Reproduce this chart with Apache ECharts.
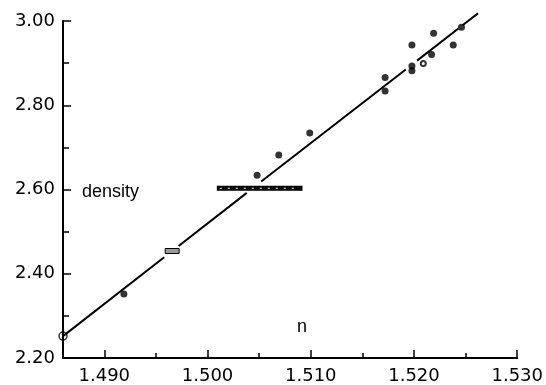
<!DOCTYPE html>
<html>
<head>
<meta charset="utf-8">
<script src="https://cdn.jsdelivr.net/npm/echarts@6/dist/echarts.min.js"></script>
<style>
html,body{margin:0;padding:0;background:#fff;}
#chart{width:546px;height:385px;}
</style>
</head>
<body>
<div id="chart"></div>
<script>
// ---- data ----
const xMin = 1.486, xMax = 1.530;
const yMin = 2.20, yMax = 3.00;
const xTickLabels = [1.490, 1.500, 1.510, 1.520, 1.530];
const xMinorTicks = [1.495, 1.505, 1.515, 1.525];
const yTickStep = 0.2;

const pointN       = [1.4919, 1.5048, 1.5069, 1.5099, 1.5172, 1.5172, 1.5198, 1.5198, 1.5198, 1.5217, 1.5219, 1.5238, 1.5246];
const pointDensity = [2.352,  2.634,  2.682,  2.734,  2.866,  2.834,  2.943,  2.893,  2.882,  2.9205, 2.971,  2.943,  2.985];
const ringN = [1.5209];
const ringDensity = [2.899];
const anchorN = [1.486];
const anchorDensity = [2.252];

// horizontal range bars: [nStart, nEnd, density]
const bigBarN = [1.5009, 1.5092];
const bigBarDensity = 2.603;
const smallBoxN = [1.4959, 1.49725];
const smallBoxDensity = 2.454;

// fitted line, drawn as broken segments
const lineSegN = [
  [1.486, 1.4958],
  [1.4972, 1.5038],
  [1.5052, 1.5192],
  [1.5203, 1.5243],
  [1.5247, 1.5262]
];
const lineSegDensity = [
  [2.252, 2.439],
  [2.466, 2.592],
  [2.619, 2.885],
  [2.906, 2.982],
  [2.990, 3.018]
];

// ---- chart ----
const chart = echarts.init(document.getElementById('chart'), null, {renderer: 'canvas'});
const labelFont = {color: '#000', fontFamily: 'DejaVu Sans', fontSize: 18};

const series = [];
lineSegN.forEach((seg, i) => {
  series.push({
    type: 'line', xAxisIndex: 0, yAxisIndex: 0,
    data: [[seg[0], lineSegDensity[i][0]], [seg[1], lineSegDensity[i][1]]],
    symbol: 'none', lineStyle: {color: '#000', width: 2}, clip: false, silent: true
  });
});
series.push({
  type: 'scatter', xAxisIndex: 0, yAxisIndex: 0,
  data: pointN.map((x, i) => [x, pointDensity[i]]),
  symbol: 'circle', symbolSize: 7, itemStyle: {color: '#000'}, clip: false
});
series.push({
  type: 'scatter', xAxisIndex: 0, yAxisIndex: 0,
  data: ringN.map((x, i) => [x, ringDensity[i]]),
  symbol: 'circle', symbolSize: 5, itemStyle: {color: '#fff', borderColor: '#000', borderWidth: 2}, clip: false
});
series.push({
  type: 'scatter', xAxisIndex: 0, yAxisIndex: 0,
  data: anchorN.map((x, i) => [x, anchorDensity[i]]),
  symbol: 'circle', symbolSize: 8, itemStyle: {color: 'rgba(255,255,255,0)', borderColor: '#000', borderWidth: 1.5}, clip: false, z: 5
});
function rangeRect(nArr, d, h, style, inner) {
  return {
    type: 'custom', xAxisIndex: 0, yAxisIndex: 0,
    data: [[nArr[0], nArr[1], d]],
    renderItem: function (params, api) {
      const p1 = api.coord([api.value(0), api.value(2)]);
      const p2 = api.coord([api.value(1), api.value(2)]);
      const children = [{
        type: 'rect',
        shape: {x: p1[0], y: p1[1] - h / 2, width: p2[0] - p1[0], height: h},
        style: style
      }];
      if (inner) {
        children.push({
          type: 'line',
          shape: {x1: p1[0] + 3, y1: p1[1], x2: p2[0] - 3, y2: p1[1]},
          style: {stroke: '#fff', lineWidth: 1, lineDash: [2, 6]}
        });
      }
      return {type: 'group', children: children};
    },
    clip: false, silent: true
  };
}
series.push(rangeRect(bigBarN, bigBarDensity, 5, {fill: '#000'}, true));
series.push(rangeRect(smallBoxN, smallBoxDensity, 5, {fill: '#999', stroke: '#000', lineWidth: 1}, false));

chart.setOption({
  backgroundColor: '#fff',
  animation: false,
  grid: {left: 63, right: 19, top: 21, bottom: 27, containLabel: false},
  xAxis: [{
    type: 'value', min: xMin, max: xMax,
    axisLine: {show: true, onZero: false, lineStyle: {color: '#000', width: 2}},
    axisTick: {show: true, inside: true, length: 8, lineStyle: {color: '#000', width: 1.5}, customValues: xTickLabels},
    axisLabel: Object.assign({show: true, margin: 9, customValues: xTickLabels,
      formatter: v => v.toFixed(3)}, labelFont),
    splitLine: {show: false}
  }, {
    type: 'value', min: xMin, max: xMax, position: 'bottom',
    axisLine: {show: false},
    axisTick: {show: true, inside: true, length: 5, lineStyle: {color: '#000', width: 1.5}, customValues: xMinorTicks},
    axisLabel: {show: false},
    splitLine: {show: false}
  }],
  yAxis: [{
    type: 'value', min: yMin, max: yMax, interval: yTickStep,
    axisLine: {show: true, onZero: false, lineStyle: {color: '#000', width: 2}},
    axisTick: {show: true, inside: true, length: 8, lineStyle: {color: '#000', width: 1.5}},
    minorTick: {show: true, splitNumber: 2, length: 6, lineStyle: {color: '#000', width: 1.5}},
    axisLabel: Object.assign({show: true, margin: 8, formatter: v => v.toFixed(2)}, labelFont),
    splitLine: {show: false},
    minorSplitLine: {show: false}
  }],
  graphic: [
    {type: 'text', left: 82, top: 183, style: {text: 'density', fill: '#000', font: '18px "Liberation Sans"'}},
    {type: 'text', left: 297, top: 318, style: {text: 'n', fill: '#000', font: '18px "Liberation Sans"'}}
  ],
  series: series
});
</script>
</body>
</html>
